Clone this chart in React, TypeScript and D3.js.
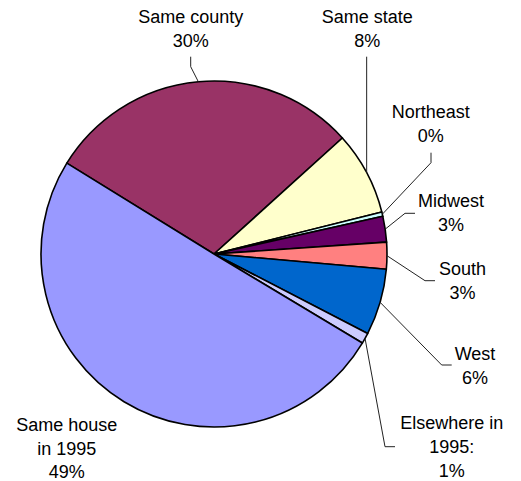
import React from "react";
import * as d3 from "d3";

const categories = ["Same county", "Same state", "Northeast", "Midwest", "South", "West", "Elsewhere in 1995:", "Same house in 1995"];
const values = [29.5, 7.8, 0.4, 2.4, 2.5, 6.2, 1.0, 50.2];
const pctLabels = ["30%", "8%", "0%", "3%", "3%", "6%", "1%", "49%"];
const labelLines = [
  ["Same county"],
  ["Same state"],
  ["Northeast"],
  ["Midwest"],
  ["South"],
  ["West"],
  ["Elsewhere in", "1995:"],
  ["Same house", "in 1995"],
];
const colors = ["#993366", "#FFFFCC", "#CCFFFF", "#660066", "#FF8080", "#0066CC", "#CCCCFF", "#9999FF"];

// layout: label centre x, first baseline y, leader elbow points
const layout = [
  { x: 190.7, y: 22.7, leader: [[190.7, 66.7], [190.7, 56.7]] },
  { x: 367.3, y: 22.7, leader: [[null, 56.7]] },
  { x: 430.7, y: 118.3, leader: [[431, 162.7], [431, 152.7]] },
  { x: 451, y: 206.7, leader: [[405, 213.3], [415, 213.3]] },
  { x: 462.5, y: 275, leader: [[425, 280.7], [435, 280.7]] },
  { x: 475, y: 360, leader: [[441.7, 365], [451.7, 365]] },
  { x: 451.7, y: 429.3, leader: [[385, 446.7], [395, 446.7]] },
  { x: 66.7, y: 430.7, leader: [] as any[] },
];

const W = 521, H = 481;
const cx = 214, cy = 254, R = 173;
const LH = 23.8;

export default function App() {
  const pie = d3.pie<number>().sort(null).value((d) => d)
    .startAngle((-58.3 * Math.PI) / 180)
    .endAngle((-58.3 * Math.PI) / 180 + 2 * Math.PI);
  const arcs = pie(values);
  const arcGen = d3.arc<d3.PieArcDatum<number>>().innerRadius(0).outerRadius(R);

  return (
    <svg width={W} height={H} style={{ position: "absolute", left: 0, top: 0, background: "#fff" }}
      fontFamily="Arial, 'Liberation Sans', sans-serif" fontSize={18}>
      <g transform={`translate(${cx},${cy})`}>
        {arcs.map((a, i) => (
          <path key={i} d={arcGen(a) || ""} fill={colors[i]} stroke="#000" strokeWidth={1.6} strokeLinejoin="round" />
        ))}
      </g>
      {arcs.map((a, i) => {
        const L = layout[i];
        if (!L.leader.length) return null;
        const mid = (a.startAngle + a.endAngle) / 2;
        const sx = cx + R * Math.sin(mid);
        const sy = cy - R * Math.cos(mid);
        const pts: [number, number][] = [[sx, sy], ...L.leader.map((p: any) => [p[0] == null ? sx : p[0], p[1]] as [number, number])];
        const line = d3.line();
        return <path key={"l" + i} d={line(pts) || ""} fill="none" stroke="#222" strokeWidth={1} />;
      })}
      {categories.map((c, i) => {
        const L = layout[i];
        const lines = [...labelLines[i], pctLabels[i]];
        return (
          <text key={"t" + i} x={L.x} y={L.y} textAnchor="middle" fill="#000">
            {lines.map((t, j) => (
              <tspan key={j} x={L.x} y={L.y + j * LH}>{t}</tspan>
            ))}
          </text>
        );
      })}
    </svg>
  );
}
